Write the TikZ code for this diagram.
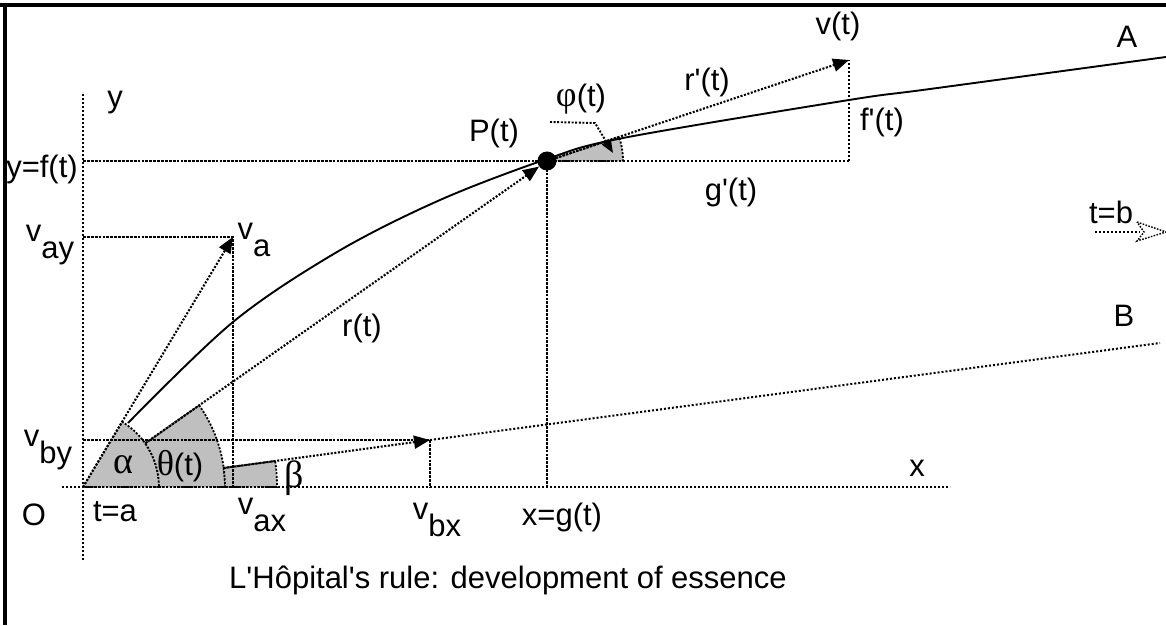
\documentclass[tikz,border=0pt]{standalone}
\usepackage{fontspec}
\setmainfont{Liberation Sans}[Ligatures=TeXOff]
\newfontfamily\grk{Liberation Serif}
\usetikzlibrary{arrows.meta}
\definecolor{shade}{gray}{0.75}
\newcommand{\vs}[1]{v\raisebox{-0.55em}{#1}}
\begin{document}
\begin{tikzpicture}[x=1pt,y=1pt,
  dots/.style={line width=2pt, dash pattern=on 2pt off 2pt},
  guide/.style={line width=1.5pt, dash pattern=on 2.8pt off 1.1pt},
  vec/.style={line width=2.1pt, dash pattern=on 2pt off 1.6pt, -{Triangle[length=16pt,width=13pt]}},
  smallvec/.style={line width=1.9pt, dash pattern=on 2pt off 1.6pt, -{Triangle[length=13pt,width=10pt]}},
  sector/.style={fill=shade, draw=black, line width=1.8pt, dash pattern=on 2pt off 1.6pt},
  lbl/.style={inner sep=0pt, font=\fontsize{31}{33}\selectfont},
  glbl/.style={inner sep=0pt, font=\fontsize{38}{40}\selectfont\grk}]
\useasboundingbox (0,0) rectangle (1166,625);
% frame
\draw[line width=4pt] (5,0) -- (5,622);
\draw[line width=3.5pt] (0,620) -- (1166,620);
% key coordinates
\coordinate (O) at (83,138);
\coordinate (Va) at (233,388);
\coordinate (Vb) at (430,185);
\coordinate (V) at (849,565);
\coordinate (Bend) at (1160,282);
% shaded sectors
\path[sector] (O) -- ++(59:76) arc[start angle=59,end angle=0,radius=76] -- cycle;
\path[sector] ([shift={(0:76)}]O) -- ([shift={(0:142)}]O) arc[start angle=0,end angle=35.1,radius=142]
   -- ([shift={(35.1:76)}]O) arc[start angle=35.1,end angle=0,radius=76] -- cycle;
\path[sector] ([shift={(0:142)}]O) -- ([shift={(0:194)}]O) arc[start angle=0,end angle=7.7,radius=194]
   -- ([shift={(7.7:142)}]O) arc[start angle=7.7,end angle=0,radius=142] -- cycle;
\path[sector] (547,464) -- ++(0:76) arc[start angle=0,end angle=18.5,radius=76] -- cycle;
% axes
\coordinate (ytop) at (83,533);
\coordinate (ybot) at (83,65);
\coordinate (xl) at (62,138);
\coordinate (xr) at (950,138);
\draw[dots] (ybot) -- (ytop);
\draw[dots] (xl) -- (xr);
% guides
\coordinate (yf) at (83,464);
\coordinate (gx) at (547,138);
\coordinate (vay) at (83,388);
\coordinate (vax) at (233,138);
\coordinate (vby) at (83,185);
\coordinate (vbx) at (430,138);
\coordinate (gend) at (849,464);
\draw[guide] (yf) -- (547,464);
\draw[dots] (547,464) -- (gend);
\draw[dots] (gend) -- (V);
\draw[guide] (vay) -- (Va) -- (vax);
\draw[guide] (vby) -- (Vb);
\draw[guide] (Vb) -- (vbx);
\draw[guide] (547,464) -- (gx);
% curve A
\draw[line width=1.9pt] plot[smooth, tension=0.55] coordinates
  {(128,202) (233,303) (337,373) (440,425) (547,466) (623,487) (849,525) (930,536) (1166,568)};
% line B
\draw[dots] (Vb) -- (Bend);
% point P
\node[circle, fill=black, inner sep=0pt, minimum size=19pt] (P) at (547,464) {};
% vectors
\draw[vec] (O) -- (Va);
\draw[vec] ([shift={(7.7:142)}]O) -- (Vb);
\draw[vec] ([shift={(35.1:76)}]O) -- (P);
\draw[vec] (P) -- (V);
\coordinate (phia) at (550,503);
\coordinate (phib) at (595,502);
\coordinate (phic) at (613,472);
\draw[smallvec] (phia) -- (phib) -- (phic);
% t=b arrow
\coordinate (tb1) at (1095,393);
\coordinate (tb2) at (1140,393);
\draw[dots] (tb1) -- (tb2);
\draw[line width=1.4pt, dash pattern=on 1.6pt off 1.4pt] (1137,403) -- (1166,393) -- (1137,384) -- (1144,393) -- cycle;
% labels
\node[lbl] (ly) at (115,522) {y};
\node[lbl] (lyf) at (42,456) {y=f(t)};
\node[lbl] (lvay) at (50,380) {\vs{ay}};
\node[lbl] (lva) at (254,385) {\vs{a}};
\node[lbl] (lr) at (362,297) {r(t)};
\node[lbl] (lP) at (494,492) {P(t)};
\node[lbl] (lphi) at (581,526) {{\fontsize{36}{38}\selectfont\grk φ}(t)};
\node[lbl] (lrp) at (707,543) {r'(t)};
\node[lbl] (lv) at (838,599) {v(t)};
\node[lbl] (lfp) at (882,503) {f'(t)};
\node[lbl] (lgp) at (731,433) {g'(t)};
\node[lbl] (lA) at (1127,588) {A};
\node[lbl] (lB) at (1124,309) {B};
\node[lbl] (ltb) at (1111,413) {t=b};
\node[lbl] (lx) at (917,157) {x};
\node[lbl] (lvby) at (48,175) {\vs{by}};
\node[glbl] (lal) at (123,160) {α};
\node[lbl] (lth) at (180,159) {{\fontsize{36}{38}\selectfont\grk θ}(t)};
\node[glbl] (lbe) at (294,147) {β};
\node[lbl] (lO) at (34,110) {O};
\node[lbl] (lta) at (115,113) {t=a};
\node[lbl] (lvax) at (262,110) {\vs{ax}};
\node[lbl] (lvbx) at (437,105) {\vs{bx}};
\node[lbl] (lxg) at (562,108) {x=g(t)};
\node[lbl] (title) at (508,45) {L'Hôpital's rule: development of essence};
\end{tikzpicture}
\end{document}
